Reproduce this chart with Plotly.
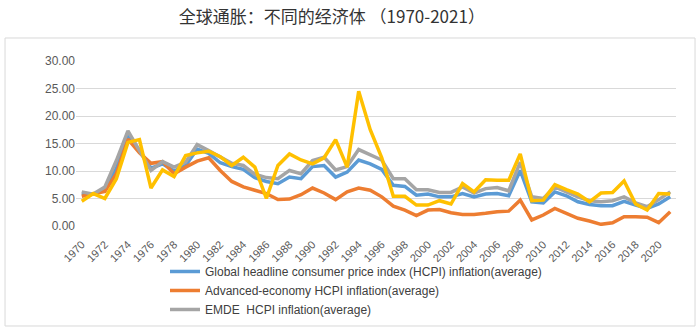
import plotly.graph_objects as go

years = [str(y) for y in range(1970, 2022)]

global_hcpi = [5.9, 5.8, 6.5, 10.5, 16.2, 13.8, 10.5, 11.3, 10.0, 11.0,
               14.0, 13.2, 11.5, 10.8, 10.3, 8.8, 8.1, 7.7, 8.9, 8.6,
               10.8, 11.0, 8.9, 9.8, 12.0, 11.3, 10.3, 7.4, 7.2, 5.6,
               5.8, 5.3, 5.3, 5.9, 5.3, 5.8, 5.9, 5.5, 10.1, 4.4,
               4.2, 6.2, 5.5, 4.4, 3.9, 3.7, 3.7, 4.5, 3.8, 3.2,
               4.0, 5.3]
advanced_hcpi = [5.4, 5.8, 6.3, 9.5, 15.8, 13.3, 11.4, 11.7, 9.5, 10.7,
                 11.8, 12.4, 10.1, 8.1, 7.1, 6.5, 5.9, 4.8, 4.9, 5.7,
                 6.9, 6.0, 4.8, 6.2, 6.9, 6.5, 5.3, 3.6, 2.9, 1.9,
                 2.9, 3.0, 2.4, 2.1, 2.1, 2.3, 2.6, 2.7, 4.7, 1.1,
                 2.0, 3.2, 2.3, 1.4, 0.9, 0.3, 0.6, 1.7, 1.7, 1.6,
                 0.6, 2.6]
emde_hcpi = [6.2, 5.8, 7.1, 11.9, 17.3, 13.6, 10.1, 11.7, 10.7, 11.6,
             14.8, 13.7, 12.5, 11.4, 11.0, 9.4, 8.8, 8.6, 10.1, 9.5,
             11.9, 12.5, 10.2, 10.8, 13.9, 13.0, 12.0, 8.6, 8.6, 6.6,
             6.6, 6.1, 6.1, 7.1, 6.0, 6.8, 7.0, 6.4, 11.6, 5.3,
             5.0, 7.1, 6.2, 5.3, 4.6, 4.4, 4.6, 5.3, 4.2, 3.5,
             4.8, 6.2]
fourth_series = [4.5, 5.9, 5.0, 8.6, 15.2, 15.7, 6.9, 10.2, 9.0, 12.8,
                 13.3, 13.6, 12.6, 11.0, 12.5, 10.7, 5.0, 11.0, 13.1, 12.0,
                 11.3, 12.4, 15.7, 10.7, 24.5, 17.5, 12.4, 5.4, 5.4, 3.8,
                 3.8, 4.6, 4.0, 7.7, 6.2, 8.4, 8.3, 8.3, 13.1, 4.6,
                 4.7, 7.5, 6.6, 5.8, 4.4, 6.0, 6.1, 8.2, 4.0, 2.9,
                 5.9, 5.8]

names = ["Global headline consumer price index (HCPI) inflation(average)",
         "Advanced-economy HCPI inflation(average)",
         "EMDE  HCPI inflation(average)",
         "LIC HCPI inflation(average)"]
tick_years = [str(y) for y in range(1970, 2021, 2)]
y_ticks = [0, 5, 10, 15, 20, 25, 30]

title_text = "全球通胀：不同的经济体 （1970-2021）"

fig = go.Figure()
series = [global_hcpi, advanced_hcpi, emde_hcpi, fourth_series]
colors = ["#5B9BD5", "#ED7D31", "#A5A5A5", "#FFC000"]
for i, (vals, col, nm) in enumerate(zip(series, colors, names)):
    fig.add_trace(go.Scatter(
        x=years, y=vals, mode="lines", name=nm,
        line=dict(color=col, width=3.5),
        showlegend=(i < 3),
    ))

fig.update_layout(
    width=700, height=331,
    margin=dict(l=76, r=24, t=61, b=105, autoexpand=False),
    paper_bgcolor="white", plot_bgcolor="white",
    title=dict(text=title_text, x=0.474, xanchor="center", y=0.948, yanchor="middle",
               font=dict(family="Noto Sans CJK SC", size=17, color="#333333")),
    font=dict(family="Liberation Sans", color="#595959", size=12),
    xaxis=dict(type="category", tickmode="array", tickvals=tick_years, ticktext=tick_years,
               tickangle=-45, showgrid=False, showline=False, ticks="",
               ticklabelstandoff=9,
               tickfont=dict(size=11, color="#595959"), range=[-0.5, 51.5],
               automargin=False),
    yaxis=dict(range=[0, 30], tickvals=y_ticks, tickformat=".2f",
               showgrid=True, gridcolor="#D9D9D9", gridwidth=1, zeroline=False,
               showline=False, ticks="", tickfont=dict(size=12, color="#595959"),
               automargin=False),
    legend=dict(xref="container", yref="container", x=0.2357, y=0.2236,
                xanchor="left", yanchor="top",
                font=dict(size=12, color="#404040"), bgcolor="rgba(0,0,0,0)",
                tracegroupgap=0, itemwidth=30),
    shapes=[dict(type="rect", xref="paper", yref="paper",
                 x0=-0.1183, x1=1.0317, y0=-0.606, y1=1.1394,
                 line=dict(color="#D9D9D9", width=1), fillcolor="rgba(0,0,0,0)",
                 layer="below")],
)

fig.write_html("out.html")
